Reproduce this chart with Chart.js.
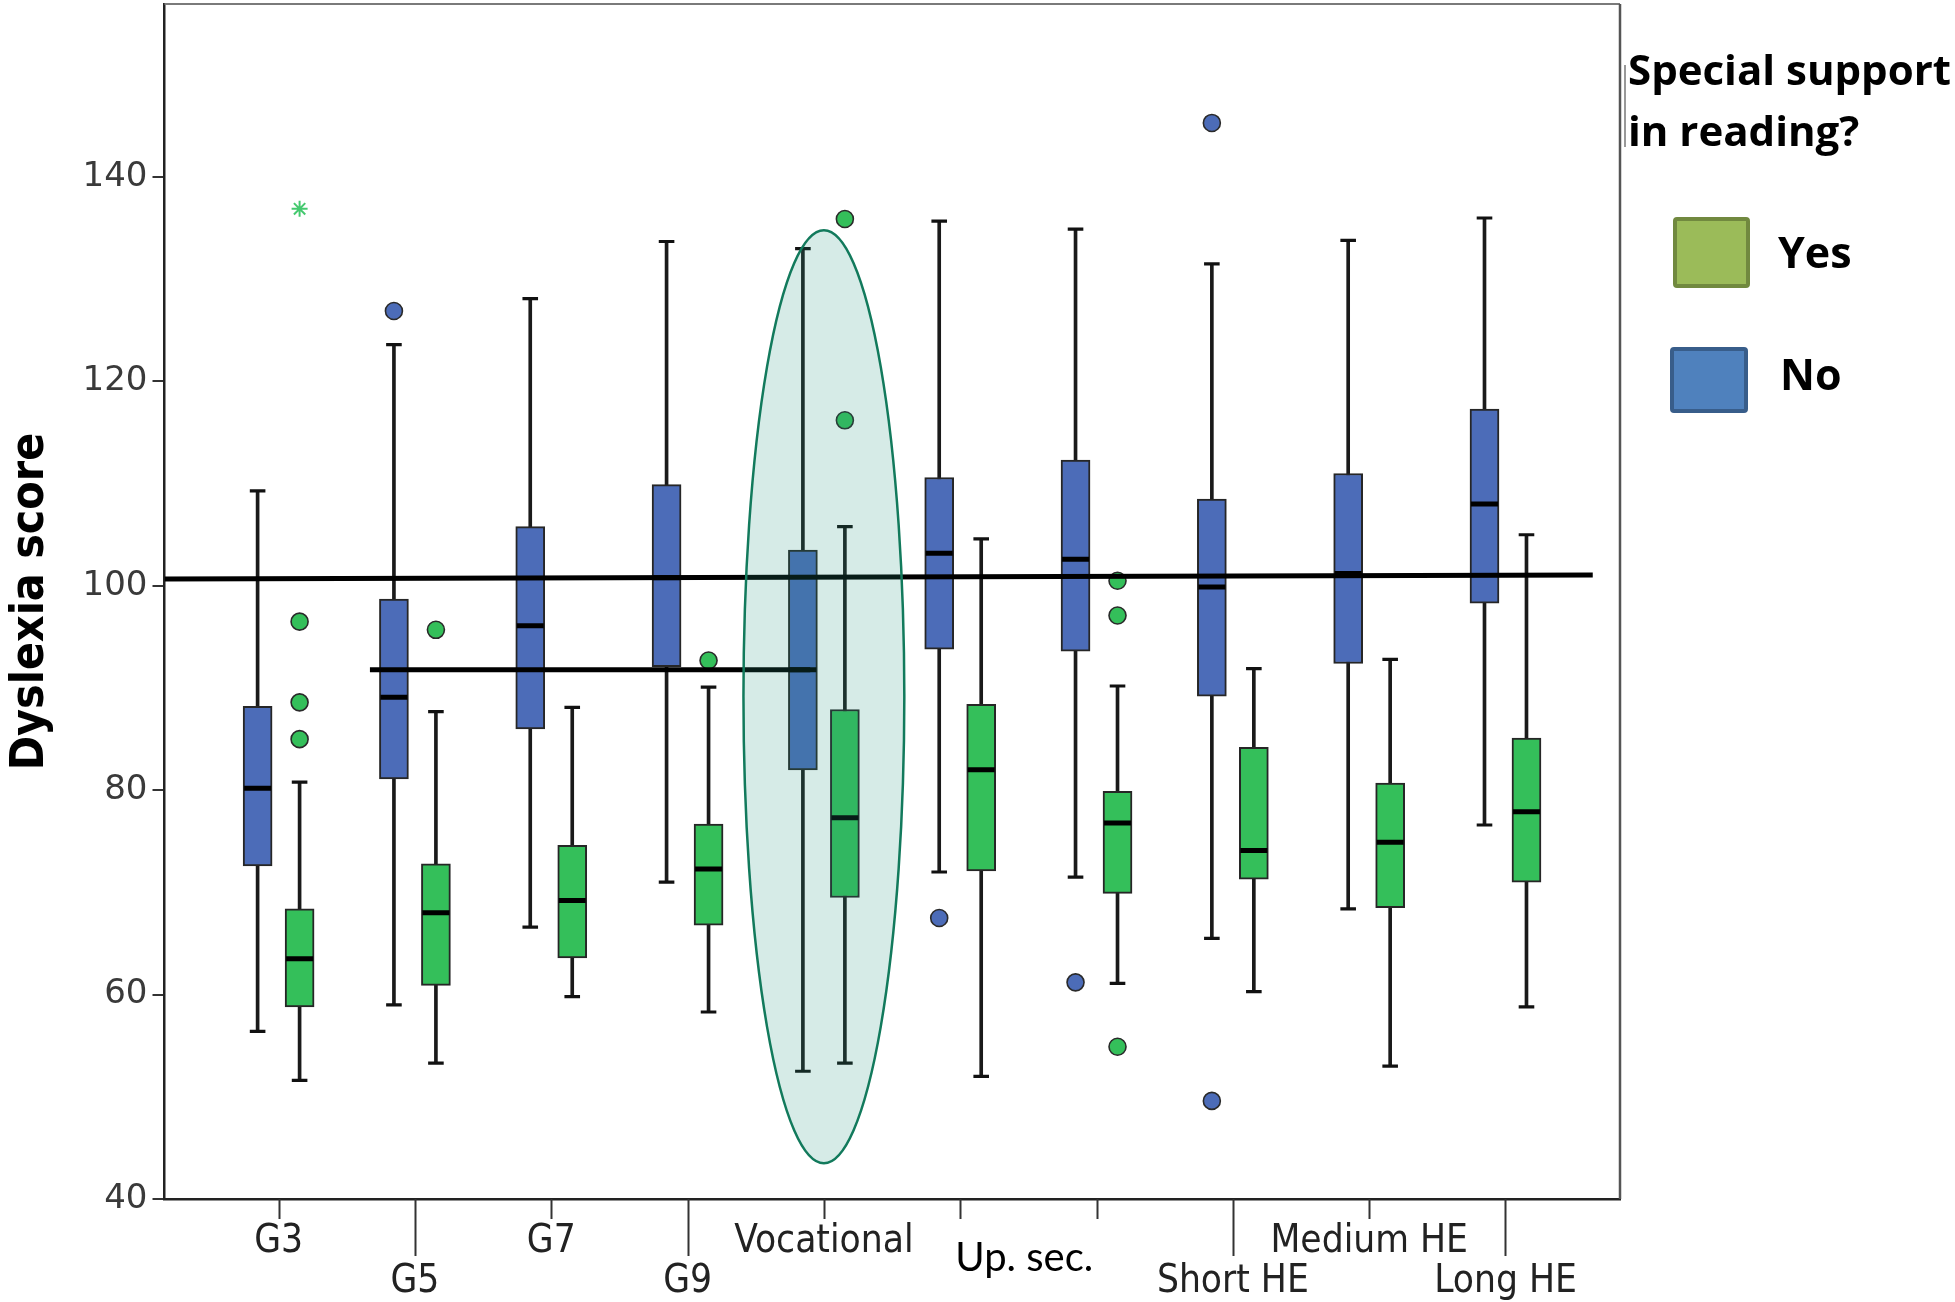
<!DOCTYPE html>
<html>
<head>
<meta charset="utf-8">
<script src="https://cdn.jsdelivr.net/npm/chart.js@4.4.1/dist/chart.umd.min.js"></script>
<style>
html,body{margin:0;padding:0;background:#fff;}
canvas{display:block;}
</style>
</head>
<body>
<canvas id="c" width="1955" height="1302"></canvas>
<script>
// ---------------- DATA ----------------
const categories = ['G3', 'G5', 'G7', 'G9', 'Vocational', 'Up. sec. A', 'Up. sec. B', 'Short HE', 'Medium HE', 'Long HE'];

// "No" special support (blue)
const noMin = [56.4, 59.0, 66.6, 71.0, 52.5, 72.0, 71.5, 65.5, 68.4, 76.6];
const noQ1  = [72.6, 81.1, 86.0, 92.1, 82.0, 93.8, 93.6, 89.2, 92.4, 98.3];
const noMed = [80.2, 89.1, 96.1, 100.8, 91.8, 103.2, 102.6, 99.9, 101.2, 108.0];
const noQ3  = [88.2, 98.7, 105.8, 109.9, 103.5, 110.6, 112.3, 108.5, 111.0, 117.3];
const noMax = [109.3, 123.6, 128.1, 133.7, 133.0, 135.7, 134.9, 131.5, 133.8, 136.0];
const noOutliers = [[], [126.9], [], [], [], [67.5], [61.2], [145.3, 49.6], [], []];

// "Yes" special support (green)
const yesMin = [51.6, 53.3, 59.8, 58.3, 53.3, 52.0, 61.1, 60.3, 53.0, 58.8];
const yesQ1  = [58.8, 60.9, 63.6, 66.8, 69.5, 72.1, 69.9, 71.3, 68.5, 71.0];
const yesMed = [63.5, 68.0, 69.2, 72.3, 77.3, 82.0, 76.8, 74.1, 74.9, 77.9];
const yesQ3  = [68.4, 72.8, 74.6, 76.7, 87.9, 88.4, 79.9, 84.2, 80.7, 85.1];
const yesMax = [80.8, 87.7, 88.1, 90.1, 105.8, 104.6, 90.2, 91.9, 92.8, 105.0];
const yesOutliers = [[96.5, 88.6, 85.0], [95.7], [], [92.7], [135.9, 116.2], [], [100.5, 97.1, 54.9], [], [], []];
const yesExtremes = [[136.9], [], [], [], [], [], [], [], [], []];

// reference lines (x in category units, y in score)
const refLine1X = [0.163, 10.64];
const refLine1Y = [100.66, 101.07];
const refLine2X = [1.67, 4.9];
const refLine2Y = [91.8, 91.8];

// highlight ellipse around Vocational
const ellipseCat = 5;
const ellipseHalfWidth = 0.59;
const ellipseTop = 134.8;
const ellipseBottom = 43.5;

// axis ticks / labels
const yTicks = [40, 60, 80, 100, 120, 140];
const xTickValues = [1, 2, 3, 4, 5, 6.47, 8, 9, 10];
const xTickLabels = ['G3', 'G5', 'G7', 'G9', 'Vocational', 'Up. sec.', 'Short HE', 'Medium HE', 'Long HE'];
const xTickRow = [1, 2, 1, 2, 1, 1.5, 2, 1, 2];
const xMarkRow = [1, 2, 1, 2, 1, 1, 1, 2, 1, 2];

const legendTitle = ['Special support', 'in reading?'];
const legendLabels = ['Yes', 'No'];
const yTitle = 'Dyslexia score';

// ---------------- STYLE ----------------
const BLUE = '#4c6cb8';
const GREEN = '#34bf5a';
const OFF = 0.154;
const X_MIN = 0.163, X_MAX = 10.84;
const Y_MIN = 40, Y_MAX = 156.94;

function pts(arr, dx) { return arr.map((v, i) => ({x: i + 1 + dx, y: v})); }
function pts2(a, b, dx) { return a.map((v, i) => ({x: i + 1 + dx, y: [v, b[i]]})); }
function flat(arrs, dx) { return arrs.flatMap((a, i) => a.map(v => ({x: i + 1 + dx, y: v}))); }

function whisker(lo, hi, dx) {
  return {type: 'bar', data: pts2(lo, hi, dx), backgroundColor: '#1a1a1a', borderWidth: 0,
    barThickness: 3, maxBarThickness: 3, grouped: false, order: 8};
}
function caps(lo, hi, dx) {
  return {type: 'scatter', data: pts(lo, dx).concat(pts(hi, dx)), pointStyle: 'line',
    pointRadius: 7.8, pointBorderWidth: 3.2, pointBorderColor: '#111', borderColor: '#111', order: 7};
}
function box(q1, q3, dx, color) {
  return {type: 'bar', data: pts2(q1, q3, dx), backgroundColor: color, borderColor: '#262626',
    borderWidth: 2, borderSkipped: false, barThickness: 29, maxBarThickness: 29, grouped: false, order: 6};
}
function median(m, dx) {
  return {type: 'scatter', data: pts(m, dx), pointStyle: 'line', pointRadius: 13.5,
    pointBorderWidth: 5, pointBorderColor: '#000', borderColor: '#000', order: 5};
}
function outl(arrs, dx, color) {
  return {type: 'scatter', data: flat(arrs, dx), pointStyle: 'circle', pointRadius: 8.5,
    pointBackgroundColor: color, backgroundColor: color, pointBorderColor: '#2a2a2a', borderColor: '#2a2a2a',
    pointBorderWidth: 1.6, order: 4};
}

const datasets = [
  whisker(noMin, noMax, -OFF), whisker(yesMin, yesMax, OFF),
  caps(noMin, noMax, -OFF), caps(yesMin, yesMax, OFF),
  box(noQ1, noQ3, -OFF, BLUE), box(yesQ1, yesQ3, OFF, GREEN),
  median(noMed, -OFF), median(yesMed, OFF),
  outl(noOutliers, -OFF, BLUE), outl(yesOutliers, OFF, GREEN),
  {type: 'scatter', data: flat(yesExtremes, OFF), pointStyle: 'star', pointRadius: 8,
    pointBorderWidth: 2, pointBorderColor: '#45c96f', borderColor: '#45c96f', order: 4},
  {type: 'line', data: [{x: refLine1X[0], y: refLine1Y[0]}, {x: refLine1X[1], y: refLine1Y[1]}],
    borderColor: '#000', borderWidth: 5, pointRadius: 0, fill: false, order: 1},
  {type: 'line', data: [{x: refLine2X[0], y: refLine2Y[0]}, {x: refLine2X[1], y: refLine2Y[1]}],
    borderColor: '#000', borderWidth: 5, pointRadius: 0, fill: false, order: 1}
];

const decor = {
  id: 'decor',
  afterDatasetsDraw(chart) {
    const {ctx, scales: {x, y}} = chart;
    const cx = x.getPixelForValue(ellipseCat);
    const rx = x.getPixelForValue(ellipseCat + ellipseHalfWidth) - cx;
    const yt = y.getPixelForValue(ellipseTop), yb = y.getPixelForValue(ellipseBottom);
    ctx.save();
    ctx.beginPath();
    ctx.ellipse(cx, (yt + yb) / 2, rx, (yb - yt) / 2, 0, 0, Math.PI * 2);
    ctx.fillStyle = 'rgba(39,150,126,0.19)';
    ctx.fill();
    ctx.lineWidth = 2.5;
    ctx.strokeStyle = '#127a5c';
    ctx.stroke();
    ctx.restore();
  },
  afterDraw(chart) {
    const {ctx, chartArea: a, scales: {x}} = chart;
    ctx.save();
    // frame top / right
    ctx.strokeStyle = '#7a7a7a'; ctx.lineWidth = 2;
    ctx.beginPath(); ctx.moveTo(a.left, a.top); ctx.lineTo(a.right, a.top); ctx.stroke();
    ctx.strokeStyle = '#555'; ctx.lineWidth = 2.5;
    ctx.beginPath(); ctx.moveTo(a.right, a.top); ctx.lineTo(a.right, a.bottom); ctx.stroke();
    // x tick marks
    ctx.strokeStyle = '#333'; ctx.lineWidth = 2;
    categories.forEach((c, i) => {
      const px = Math.round(x.getPixelForValue(i + 1)) + 0.5;
      const len = xMarkRow[i] === 2 ? 57 : 20;
      ctx.beginPath(); ctx.moveTo(px, a.bottom); ctx.lineTo(px, a.bottom + len); ctx.stroke();
    });
    // legend
    ctx.strokeStyle = '#777'; ctx.lineWidth = 1.5;
    ctx.beginPath(); ctx.moveTo(1625, 65); ctx.lineTo(1625, 147); ctx.stroke();
    ctx.fillStyle = '#000';
    ctx.font = 'bold 42px "Open Sans"';
    ctx.textBaseline = 'alphabetic';
    ctx.textAlign = 'left';
    ctx.fillText(legendTitle[0], 1628, 85);
    ctx.fillText(legendTitle[1], 1628, 146);
    const sw = (x0, y0, w, h, fill, stroke) => {
      ctx.beginPath();
      ctx.roundRect(x0 + 2, y0 + 2, w - 4, h - 4, 2);
      ctx.fillStyle = fill; ctx.fill();
      ctx.lineWidth = 4; ctx.strokeStyle = stroke; ctx.stroke();
    };
    sw(1673, 217, 77, 71, '#9bbb59', '#71893f');
    sw(1670, 347, 78, 66, '#4f81bd', '#385d8a');
    ctx.fillStyle = '#000';
    ctx.font = 'bold 43px "Open Sans"';
    ctx.fillText(legendLabels[0], 1778, 268);
    ctx.fillText(legendLabels[1], 1780, 390);
    ctx.restore();
  }
};

new Chart(document.getElementById('c'), {
  type: 'bar',
  data: {datasets},
  plugins: [decor],
  options: {
    responsive: false,
    devicePixelRatio: 1,
    animation: false,
    events: [],
    layout: {autoPadding: false, padding: {left: 0, right: 335, top: 4, bottom: 0}},
    plugins: {legend: {display: false}, tooltip: {enabled: false}},
    scales: {
      x: {
        type: 'linear', min: X_MIN, max: X_MAX, offset: false,
        afterBuildTicks: s => { s.ticks = xTickValues.map(v => ({value: v})); },
        afterFit: s => { s.height = 103; s.paddingLeft = 0; s.paddingRight = 0; },
        grid: {display: true, drawOnChartArea: false, drawTicks: false, offset: false},
        border: {display: true, color: '#222', width: 2.5},
        ticks: {
          autoSkip: false, maxRotation: 0, minRotation: 0, padding: 23,
          callback: (v, i) => {
            const r = xTickRow[i];
            return r === 2 ? ['', xTickLabels[i]] : [xTickLabels[i]];
          },
          font: ctx => xTickRow[ctx.index] === 1.5
            ? {family: 'Lato', size: 40, lineHeight: '73px'}
            : {family: '"DejaVu Sans Condensed", "DejaVu Sans", sans-serif', size: 38.5, lineHeight: '40px'},
          color: ctx => xTickRow[ctx.index] === 1.5 ? '#000' : '#222'
        }
      },
      y: {
        type: 'linear', min: Y_MIN, max: Y_MAX, beginAtZero: false,
        afterBuildTicks: s => { s.ticks = yTicks.map(v => ({value: v})); },
        afterFit: s => { s.width = 164.5; s.paddingTop = 0; s.paddingBottom = 0; },
        grid: {display: true, drawOnChartArea: false, drawTicks: true, tickLength: 12, color: '#333', lineWidth: 2},
        border: {display: true, color: '#222', width: 2.5},
        ticks: {padding: 5, color: '#3a3a3a', font: {family: '"DejaVu Sans", sans-serif', size: 34, lineHeight: '4px'}},
        title: {display: true, text: yTitle, color: '#000',
          font: {family: '"DejaVu Sans Condensed", "DejaVu Sans", sans-serif', weight: 'bold', size: 46},
          padding: {top: 3, bottom: 0}}
      }
    }
  }
});
</script>
</body>
</html>
